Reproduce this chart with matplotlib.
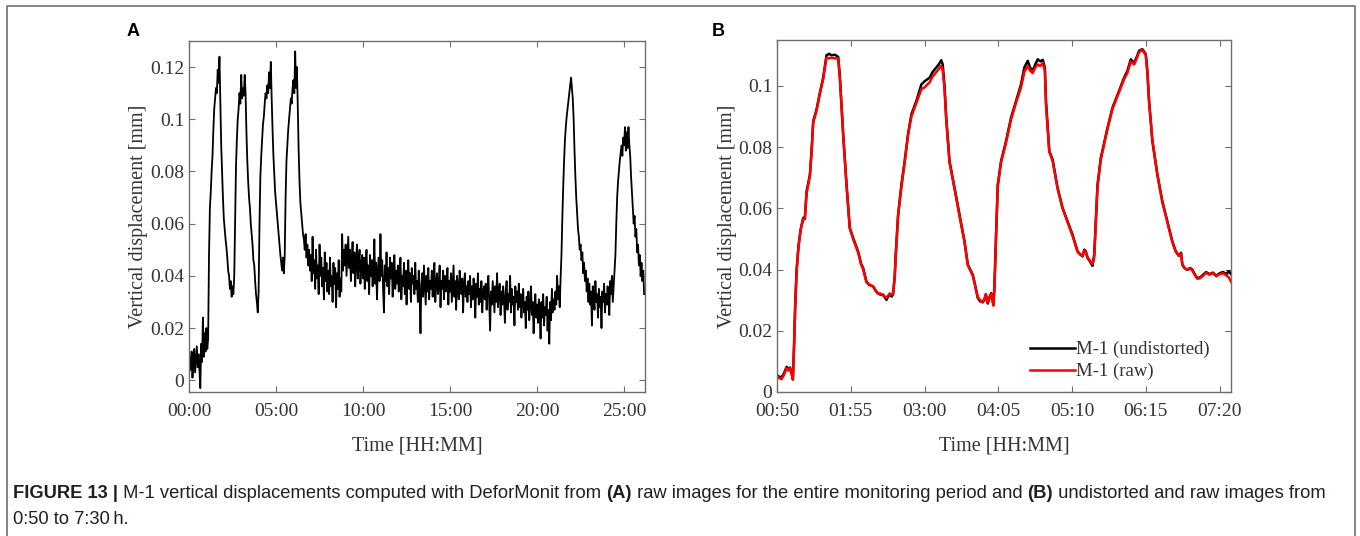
import numpy as np
import matplotlib
matplotlib.use("Agg")
import matplotlib.pyplot as plt
from matplotlib.lines import Line2D

# ---- data -------------------------------------------------------------
# panel A: M-1 vertical displacement (raw), one sample every 0.05 h, in micrometres
step_a = 0.05
disp_a_um = [
    # 00 h
    2, 9, 4, 11, 1, 7, 12, 3, 8, 13, 5, 10, 4, -3, 14, 7, 24, 9, 18, 11,
    # 01 h
    20, 12, 16, 48, 66, 72, 80, 86, 96, 104, 108, 112, 110, 119, 114, 124, 106, 90, 80, 70,
    # 02 h
    62, 58, 54, 51, 47, 42, 40, 35, 38, 32, 36, 33, 40, 62, 82, 92, 100, 104, 110, 106,
    # 03 h
    117, 108, 112, 109, 117, 110, 95, 84, 76, 70, 66, 60, 56, 52, 46, 44, 38, 33, 30, 26,
    # 04 h
    34, 60, 78, 86, 92, 98, 101, 106, 110, 108, 113, 110, 118, 112, 122, 108, 96, 86, 79, 72,
    # 05 h
    68, 64, 60, 56, 52, 48, 45, 42, 47, 41, 48, 70, 84, 90, 96, 100, 104, 108, 106, 112,
    # 06 h
    115, 110, 126, 112, 120, 105, 88, 76, 68, 64, 60, 56, 54, 50, 56, 47, 52, 44, 50, 42,
    # 07 h
    48, 38, 55, 41, 46, 35, 50, 39, 44, 33, 52, 40, 47, 36, 43, 31, 49, 38, 45, 34,
    # 08 h
    42, 33, 47, 36, 40, 30, 45, 37, 43, 28, 41, 35, 46, 32, 39, 34, 56, 42, 50, 44,
    # 09 h
    52, 40, 48, 55, 43, 50, 38, 47, 53, 41, 49, 36, 46, 52, 39, 45, 50, 37, 44, 48,
    # 10 h
    39, 47, 35, 45, 50, 38, 44, 33, 48, 40, 46, 36, 43, 54, 37, 45, 31, 42, 47, 38,
    # 11 h
    56, 40, 46, 35, 26, 44, 38, 49, 36, 43, 33, 47, 39, 45, 32, 41, 48, 35, 42, 37,
    # 12 h
    44, 34, 41, 47, 31, 40, 36, 45, 33, 42, 29, 39, 46, 35, 41, 30, 43, 37, 40, 33,
    # 13 h
    45, 35, 38, 30, 42, 33, 18, 37, 41, 32, 44, 36, 29, 40, 34, 43, 31, 38, 35, 42,
    # 14 h
    32, 39, 45, 30, 37, 41, 33, 36, 44, 28, 38, 35, 42, 31, 40, 34, 37, 43, 29, 38,
    # 15 h
    34, 41, 30, 37, 44, 32, 38, 27, 40, 35, 31, 42, 36, 33, 39, 26, 37, 41, 32, 36,
    # 16 h
    30, 38, 33, 40, 28, 36, 31, 39, 34, 24, 37, 32, 41, 29, 35, 30, 38, 26, 34, 36,
    # 17 h
    31, 37, 27, 35, 40, 30, 19, 34, 29, 38, 32, 26, 36, 30, 41, 28, 33, 37, 25, 34,
    # 18 h
    29, 36, 31, 22, 34, 38, 27, 33, 30, 40, 26, 35, 29, 32, 21, 36, 30, 34, 27, 37,
    # 19 h
    28, 33, 24, 31, 35, 26, 30, 20, 32, 27, 34, 23, 29, 36, 25, 30, 18, 28, 33, 24,
    # 20 h
    29, 22, 31, 26, 16, 30, 24, 33, 21, 28, 25, 32, 19, 27, 14, 30, 23, 35, 26, 31,
    # 21 h
    27, 34, 29, 40, 31, 36, 28, 39, 48, 62, 74, 84, 92, 97, 101, 104, 107, 110, 113, 116,
    # 22 h
    112, 108, 100, 88, 78, 70, 64, 58, 55, 50, 52, 46, 49, 41, 45, 38, 42, 34, 39, 30,
    # 23 h
    37, 29, 34, 21, 36, 31, 27, 38, 30, 33, 24, 35, 28, 32, 20, 34, 30, 37, 26, 33,
    # 24 h
    29, 36, 31, 25, 38, 33, 40, 30, 36, 42, 48, 60, 70, 76, 80, 84, 87, 90, 86, 93,
    # 25 h
    90, 97, 88, 95, 89, 97, 90, 86, 78, 72, 66, 60, 63, 55, 58, 49, 52, 44, 48, 40,
    # 26 h
    45, 38, 42, 33,
]

# panel B: minutes since 00:00, undistorted and raw displacement [mm]
time_b = [50, 52, 54, 56, 58.5, 60, 61.5, 63, 64, 65, 66, 67.3, 69, 70.8, 73.1, 74.5,
          76.1, 79, 80.5, 81.9, 84.9, 87.8, 90.7, 92, 93.6, 96, 98, 101, 103.9, 105.4,
          108.3, 111.2, 114.1, 117.1, 121.5, 124, 125.9, 128.8, 131, 134.7, 137, 139.1,
          141, 143.5, 146.4, 148, 149.3, 151, 152.3, 153.7, 154.6, 156.7, 159.6, 162.5,
          165.4, 168.4, 172.8, 177.2, 180, 184.5, 187, 190.3, 192.5, 194.7, 196, 197.6,
          199.1, 202, 206.4, 210.8, 215.2, 218.1, 222.5, 224.5, 226.9, 229, 231.3, 232.8,
          234, 235.7, 237, 238.7, 240.7, 241.6, 243, 244.5, 247.4, 251.8, 256.2, 260.6,
          265, 267.9, 270.9, 273, 275.3, 277.5, 279.7, 282, 284.1, 286, 287, 289.9,
          292.8, 297.2, 301.6, 306, 310.4, 314.8, 317, 319.2, 320.7, 322, 323.6, 326,
          328, 329.5, 332.4, 335.3, 338, 341.2, 345.6, 351.4, 355.8, 358.7, 361.7, 364.6,
          367, 369, 371.9, 374.9, 376.3, 377.8, 380.7, 385.1, 389.5, 393.9, 398.3, 401.2,
          404.1, 406, 407.1, 409, 411.5, 414, 415.9, 418, 420.3, 423, 426, 428, 431, 434,
          437, 440, 443, 446, 448, 450]
undistorted_b = [0.0055, 0.0050, 0.0048, 0.0060, 0.0082, 0.0075, 0.0080, 0.0060, 0.0042, 0.0150,
                 0.0280, 0.0400, 0.0480, 0.0530, 0.0569, 0.0565, 0.0656, 0.0710, 0.0790, 0.0885,
                 0.0924, 0.0978, 0.1027, 0.1060, 0.1100, 0.1105, 0.1100, 0.1102, 0.1095, 0.1030,
                 0.0842, 0.0680, 0.0536, 0.0503, 0.0459, 0.0420, 0.0405, 0.0361, 0.0350, 0.0345,
                 0.0330, 0.0323, 0.0318, 0.0318, 0.0301, 0.0312, 0.0318, 0.0312, 0.0320, 0.0380,
                 0.0450, 0.0579, 0.0677, 0.0754, 0.0842, 0.0907, 0.0951, 0.1005, 0.1015, 0.1027,
                 0.1045, 0.1060, 0.1070, 0.1084, 0.1070, 0.1000, 0.0896, 0.0754, 0.0667, 0.0579,
                 0.0492, 0.0416, 0.0383, 0.0350, 0.0307, 0.0296, 0.0296, 0.0300, 0.0318, 0.0289,
                 0.0305, 0.0323, 0.0285, 0.0350, 0.0514, 0.0677, 0.0754, 0.0820, 0.0896, 0.0951,
                 0.1005, 0.1060, 0.1082, 0.1060, 0.1050, 0.1070, 0.1087, 0.1080, 0.1085, 0.1060,
                 0.0950, 0.0787, 0.0760, 0.0667, 0.0601, 0.0558, 0.0514, 0.0460, 0.0450, 0.0443,
                 0.0465, 0.0460, 0.0438, 0.0425, 0.0412, 0.0450, 0.0677, 0.0765, 0.0810, 0.0863,
                 0.0929, 0.0984, 0.1027, 0.1049, 0.1087, 0.1075, 0.1095, 0.1115, 0.1120, 0.1104,
                 0.1050, 0.0951, 0.0820, 0.0711, 0.0623, 0.0558, 0.0492, 0.0460, 0.0445, 0.0455,
                 0.0416, 0.0405, 0.0399, 0.0405, 0.0400, 0.0385, 0.0372, 0.0375, 0.0385, 0.0392,
                 0.0385, 0.0390, 0.0380, 0.0388, 0.0392, 0.0385, 0.0395, 0.0385]
raw_b = [0.0050, 0.0045, 0.0042, 0.0055, 0.0078, 0.0070, 0.0078, 0.0058, 0.0040, 0.0140,
         0.0270, 0.0395, 0.0475, 0.0530, 0.0565, 0.0565, 0.0650, 0.0705, 0.0785, 0.0880,
         0.0920, 0.0975, 0.1022, 0.1055, 0.1092, 0.1090, 0.1092, 0.1090, 0.1090, 0.1025,
         0.0840, 0.0680, 0.0536, 0.0500, 0.0455, 0.0418, 0.0400, 0.0358, 0.0352, 0.0345,
         0.0332, 0.0320, 0.0322, 0.0315, 0.0308, 0.0315, 0.0322, 0.0318, 0.0322, 0.0370,
         0.0440, 0.0575, 0.0670, 0.0750, 0.0838, 0.0900, 0.0945, 0.0989, 0.0995, 0.1012,
         0.1030, 0.1045, 0.1055, 0.1066, 0.1050, 0.0990, 0.0890, 0.0750, 0.0665, 0.0575,
         0.0490, 0.0415, 0.0380, 0.0348, 0.0310, 0.0300, 0.0292, 0.0305, 0.0320, 0.0292,
         0.0310, 0.0320, 0.0282, 0.0340, 0.0505, 0.0670, 0.0750, 0.0815, 0.0890, 0.0945,
         0.0995, 0.1045, 0.1065, 0.1050, 0.1042, 0.1060, 0.1070, 0.1065, 0.1075, 0.1050,
         0.0940, 0.0785, 0.0755, 0.0665, 0.0600, 0.0555, 0.0510, 0.0458, 0.0450, 0.0445,
         0.0462, 0.0458, 0.0440, 0.0428, 0.0418, 0.0440, 0.0670, 0.0760, 0.0805, 0.0860,
         0.0925, 0.0980, 0.1022, 0.1042, 0.1080, 0.1070, 0.1090, 0.1110, 0.1118, 0.1100,
         0.1045, 0.0950, 0.0825, 0.0710, 0.0620, 0.0555, 0.0490, 0.0460, 0.0445, 0.0452,
         0.0418, 0.0405, 0.0400, 0.0403, 0.0398, 0.0383, 0.0370, 0.0372, 0.0382, 0.0390,
         0.0383, 0.0388, 0.0378, 0.0385, 0.0388, 0.0380, 0.0375, 0.0360]

ticks_a = [0, 5, 10, 15, 20, 25]
ticklabels_a = ["00:00", "05:00", "10:00", "15:00", "20:00", "25:00"]
ticks_b = [50, 115, 180, 245, 310, 375, 440]
ticklabels_b = ["00:50", "01:55", "03:00", "04:05", "05:10", "06:15", "07:20"]
yticks_a = [0, 0.02, 0.04, 0.06, 0.08, 0.1, 0.12]
yticks_b = [0, 0.02, 0.04, 0.06, 0.08, 0.1]

disp_a = np.array(disp_a_um) / 1000.0
time_a = np.arange(len(disp_a)) * step_a

# ---- figure -----------------------------------------------------------
W, H = 1360, 536
fig = plt.figure(figsize=(W / 100, H / 100), dpi=100)
serif = "Liberation Serif"
fs = 14
frame_col = "#6e6e6e"
txt_col = "#333333"


def style_axes(ax):
    for s in ax.spines.values():
        s.set_color(frame_col)
        s.set_linewidth(1.0)
    ax.tick_params(direction="in", top=True, right=True, length=4, width=0.8,
                   color=frame_col, labelsize=fs, labelcolor=txt_col)
    ax.tick_params(axis="x", pad=8)
    ax.tick_params(axis="y", pad=3.5)
    for lab in ax.get_xticklabels() + ax.get_yticklabels():
        lab.set_family(serif)


ax_a = fig.add_axes([189 / W, 1 - 392 / H, (645 - 189) / W, (392 - 41) / H])
ax_a.plot(time_a, disp_a, color="black", lw=1.3)
ax_a.set_xlim(0, 26.2)
ax_a.set_ylim(-0.0045, 0.13)
ax_a.set_xticks(ticks_a)
ax_a.set_xticklabels(ticklabels_a)
ax_a.set_yticks(yticks_a)
ax_a.set_yticklabels(["%g" % v for v in yticks_a])
ax_a.set_xlabel("Time [HH:MM]", family=serif, fontsize=fs + 0.5, color=txt_col, labelpad=12)
ax_a.set_ylabel("Vertical displacement [mm]", family=serif, fontsize=fs + 0.5, color=txt_col, labelpad=1)
style_axes(ax_a)

ax_b = fig.add_axes([777 / W, 1 - 392 / H, (1231 - 777) / W, (392 - 40) / H])
ax_b.plot(time_b, undistorted_b, color="black", lw=1.8, label="M-1 (undistorted)")
ax_b.plot(time_b, raw_b, color="#ff0000", lw=1.8, label="M-1 (raw)")
ax_b.set_xlim(50, 450)
ax_b.set_ylim(0, 0.115)
ax_b.set_xticks(ticks_b)
ax_b.set_xticklabels(ticklabels_b)
ax_b.set_yticks(yticks_b)
ax_b.set_yticklabels(["%g" % v for v in yticks_b])
ax_b.set_xlabel("Time [HH:MM]", family=serif, fontsize=fs + 0.5, color=txt_col, labelpad=12)
ax_b.set_ylabel("Vertical displacement [mm]", family=serif, fontsize=fs + 0.5, color=txt_col, labelpad=1)
style_axes(ax_b)
leg = ax_b.legend(loc="lower right", bbox_to_anchor=(0.99, -0.015), frameon=False,
                  handlelength=2.4, handletextpad=0.05, labelspacing=0.25,
                  prop={"family": serif, "size": fs - 0.5})
for t in leg.get_texts():
    t.set_color(txt_col)

# panel letters
fig.text(127 / W, 1 - 31 / H, "A", fontsize=13, fontweight="bold", family="Liberation Sans",
         ha="left", va="center")
fig.text(712 / W, 1 - 31 / H, "B", fontsize=13, fontweight="bold", family="Liberation Sans",
         ha="left", va="center")

# outer frame (open at the bottom)
fig.add_artist(Line2D([7 / W, 7 / W, 1355 / W, 1355 / W], [0, 1 - 6 / H, 1 - 6 / H, 0],
                      transform=fig.transFigure, color="#7a7a7a", lw=1.3))

# caption with bold fragments
cap_family = ["Liberation Sans Narrow", "Liberation Sans", "DejaVu Sans"]
cap_col = "#231f20"
line1 = [("FIGURE 13 |", "bold"), (" M-1 vertical displacements computed with DeforMonit from ", "normal"),
         ("(A)", "bold"), (" raw images for the entire monitoring period and ", "normal"),
         ("(B)", "bold"), (" undistorted and raw images from", "normal")]
renderer = fig.canvas.get_renderer()
x = 13 / W
cap_fs = 13.2
for s, w in line1:
    t = fig.text(x, 1 - 493 / H, s, fontsize=cap_fs, fontweight=w, family=cap_family,
                 color=cap_col, ha="left", va="center")
    bb = t.get_window_extent(renderer)
    x = bb.x1 / W
fig.text(13 / W, 1 - 520 / H, "0:50 to 7:30\u2009h.", fontsize=cap_fs, family=cap_family,
         color=cap_col, ha="left", va="center")

fig.savefig("out.png", dpi=100)
